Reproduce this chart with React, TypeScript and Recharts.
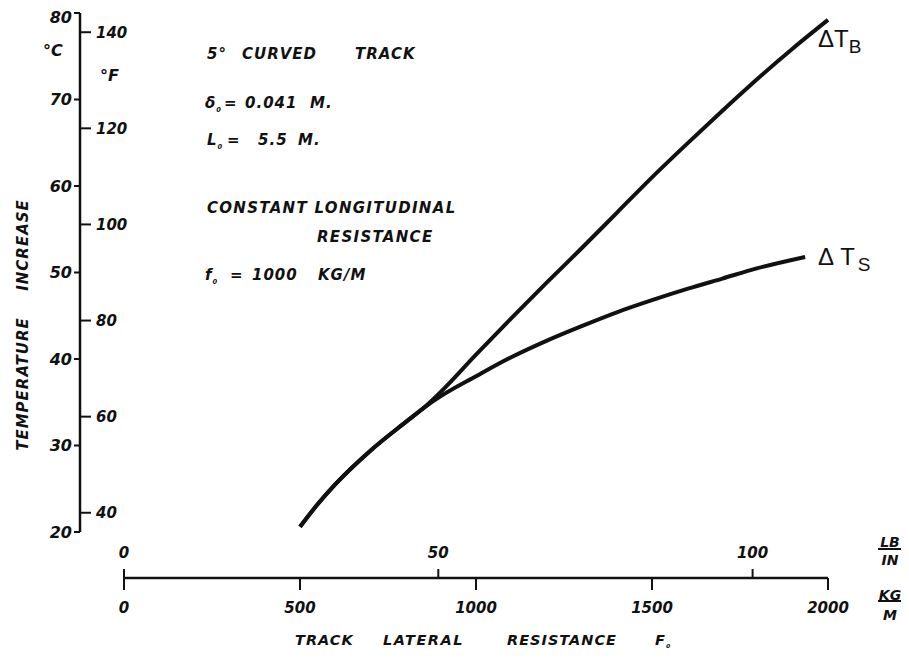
import React from "react";
import { LineChart, Line, XAxis, YAxis, ReferenceLine } from "recharts";

// track lateral resistance (kg/m) vs temperature increase (deg C)
const bucklingForce = [500, 550, 600, 700, 800, 850, 900, 1000, 1100, 1200, 1300, 1400, 1500, 1600, 1700, 1800, 1900, 2000];
const bucklingRise = [20.6, 23.2, 25.5, 29.4, 32.7, 34.3, 36.2, 40.5, 44.7, 48.8, 52.8, 56.9, 61.0, 64.9, 68.7, 72.4, 75.9, 79.2];

const safeForce = [500, 550, 600, 700, 800, 850, 900, 1000, 1100, 1200, 1300, 1400, 1500, 1600, 1700, 1800, 1935];
const safeRise = [20.6, 23.2, 25.5, 29.4, 32.7, 34.3, 35.7, 38.0, 40.2, 42.1, 43.8, 45.4, 46.8, 48.1, 49.3, 50.5, 51.8];

const celsiusTicks = [20, 30, 40, 50, 60, 70, 80];
const fahrenheitTicks = [40, 60, 80, 100, 120, 140];
const kgTicks = [0, 500, 1000, 1500, 2000];
const lbTicks = [0, 50, 100];

const KG_PER_LB_IN = 17.858;
const C_MIN = 14.68; // where the force axis sits
const C_MAX = 80;
const KG_MIN = -125; // where the temperature axis sits
const KG_MAX = 2000;

const bucklingData = bucklingForce.map((f, i) => ({ force: f, rise: bucklingRise[i] }));
const safeData = safeForce.map((f, i) => ({ force: f, rise: safeRise[i] }));

// both force scales share one axis: lb/in ticks converted to kg/m
const forceTicks = Array.from(new Set([...kgTicks, ...lbTicks.map((v) => v * KG_PER_LB_IN)])).sort((a, b) => a - b);

const ink = "#111";
const hand = {
  fill: ink,
  fontFamily: "'DejaVu Sans', sans-serif",
  fontStyle: "italic",
  fontWeight: "bold",
};

const ForceTick = (props: any) => {
  const { x, y, payload } = props;
  const v = payload.value;
  const kg = kgTicks.find((k) => Math.abs(k - v) < 0.01);
  const lb = lbTicks.find((l) => Math.abs(l * KG_PER_LB_IN - v) < 0.01);
  return (
    <g>
      {kg !== undefined && (
        <>
          <line x1={x} x2={x} y1={y} y2={y + 12} stroke={ink} strokeWidth={2} />
          <text x={x} y={y + 35} textAnchor="middle" {...hand} fontSize={15}>
            {kg}
          </text>
        </>
      )}
      {lb !== undefined && (
        <>
          <line x1={x} x2={x} y1={y - 9} y2={y} stroke={ink} strokeWidth={2} />
          <text x={x} y={y - 20} textAnchor="middle" {...hand} fontSize={15}>
            {lb}
          </text>
        </>
      )}
    </g>
  );
};

const endLabel = (last: number, sub: string, dx: number, dy: number) => (p: any) => {
  if (p.index !== last) return null;
  return (
    <text x={p.x + dx} y={p.y + dy} fill={ink} fontFamily="'Liberation Sans', sans-serif" fontSize={24}>
      Δ<tspan dx={sub === "S" ? 6 : 0}>T</tspan>
      <tspan dx={sub === "S" ? 3 : 0} dy={6} fontSize={19}>{sub}</tspan>
    </text>
  );
};

export default function App() {
  return (
    <LineChart width={893} height={644} margin={{ top: 5, right: 73, bottom: 34, left: 12 }}>
      <XAxis
        xAxisId="kg"
        type="number"
        dataKey="force"
        domain={[KG_MIN, KG_MAX]}
        ticks={forceTicks}
        interval={0}
        axisLine={false}
        tickLine={false}
        height={40}
        tickSize={0}
        tickMargin={0}
        tick={<ForceTick />}
      />
      <YAxis
        yAxisId="c"
        type="number"
        domain={[C_MIN, C_MAX]}
        ticks={celsiusTicks}
        axisLine={false}
        width={60}
        tickSize={6}
        tickMargin={2}
        tickLine={{ stroke: ink, strokeWidth: 2 }}
        tick={{ ...hand, fontSize: 16 }}
      />
      <YAxis
        yAxisId="f"
        type="number"
        mirror
        allowDataOverflow
        domain={[C_MIN * 1.8, C_MAX * 1.8]}
        ticks={fahrenheitTicks}
        axisLine={false}
        tickSize={11}
        tickMargin={5}
        tickLine={{ stroke: ink, strokeWidth: 2 }}
        tick={{ ...hand, fontSize: 15 }}
      />

      <ReferenceLine
        xAxisId="kg"
        yAxisId="c"
        segment={[{ x: KG_MIN, y: 20 }, { x: KG_MIN, y: C_MAX }]}
        stroke={ink}
        strokeWidth={2.5}
        ifOverflow="visible"
      />
      <ReferenceLine
        xAxisId="kg"
        yAxisId="c"
        segment={[{ x: 0, y: C_MIN }, { x: KG_MAX, y: C_MIN }]}
        stroke={ink}
        strokeWidth={2.5}
        ifOverflow="visible"
      />

      <Line
        xAxisId="kg"
        yAxisId="c"
        data={safeData}
        dataKey="rise"
        type="monotone"
        stroke={ink}
        strokeWidth={4}
        dot={false}
        isAnimationActive={false}
        label={endLabel(safeData.length - 1, "S", 13, 8)}
      />
      <Line
        xAxisId="kg"
        yAxisId="c"
        data={bucklingData}
        dataKey="rise"
        type="monotone"
        stroke={ink}
        strokeWidth={4}
        dot={false}
        isAnimationActive={false}
        label={endLabel(bucklingData.length - 1, "B", -10, 27)}
      />

      {/* units */}
      <text x={35} y={48} {...hand} fontSize={16}>°C</text>
      <text x={92} y={73} {...hand} fontSize={16}>°F</text>

      {/* axis titles */}
      <text
        transform="rotate(-90 15 376)"
        x={15}
        y={376}
        textAnchor="middle"
        dominantBaseline="central"
        {...hand}
        fontSize={15}
        letterSpacing={1}
      >
        TEMPERATURE
      </text>
      <text
        transform="rotate(-90 15 237)"
        x={15}
        y={237}
        textAnchor="middle"
        dominantBaseline="central"
        {...hand}
        fontSize={15}
        letterSpacing={1}
      >
        INCREASE
      </text>
      <text y={637} {...hand} fontSize={14.5} letterSpacing={1}>
        <tspan x={287}>TRACK</tspan>
        <tspan x={375} letterSpacing={1.5}>LATERAL</tspan>
        <tspan x={499}>RESISTANCE</tspan>
        <tspan x={647}>F</tspan>
        <tspan dy={3} fontSize={10}>₀</tspan>
      </text>

      {/* unit fractions */}
      <g {...hand} fontSize={14} textAnchor="middle">
        <text x={882} y={539}>LB</text>
        <text x={882} y={557}>IN</text>
        <text x={882} y={592}>KG</text>
        <text x={882} y={612}>M</text>
      </g>
      <line x1={870} x2={894} y1={541} y2={541} stroke={ink} strokeWidth={2} />
      <line x1={870} x2={894} y1={593} y2={593} stroke={ink} strokeWidth={2} />

      {/* annotations */}
      <g {...hand} fontSize={15} letterSpacing={1}>
        <text y={51}>
          <tspan x={199}>5°</tspan>
          <tspan x={234}>CURVED</tspan>
          <tspan x={347}>TRACK</tspan>
        </text>
        <text y={100}>
          <tspan x={197}>δ</tspan>
          <tspan dy={4} fontSize={11}>₀</tspan>
          <tspan x={216} dy={-4}>=</tspan>
          <tspan x={237}>0.041</tspan>
          <tspan x={302}>M.</tspan>
        </text>
        <text y={137}>
          <tspan x={199}>L</tspan>
          <tspan dy={4} fontSize={11}>₀</tspan>
          <tspan x={219} dy={-4}>=</tspan>
          <tspan x={250}>5.5</tspan>
          <tspan x={290}>M.</tspan>
        </text>
        <text x={199} y={205} letterSpacing={1.3}>CONSTANT LONGITUDINAL</text>
        <text x={309} y={234} letterSpacing={1.3}>RESISTANCE</text>
        <text y={272}>
          <tspan x={197}>f</tspan>
          <tspan dy={4} fontSize={11}>₀</tspan>
          <tspan x={222} dy={-4}>=</tspan>
          <tspan x={244}>1000</tspan>
          <tspan x={310}>KG/M</tspan>
        </text>
      </g>
    </LineChart>
  );
}
